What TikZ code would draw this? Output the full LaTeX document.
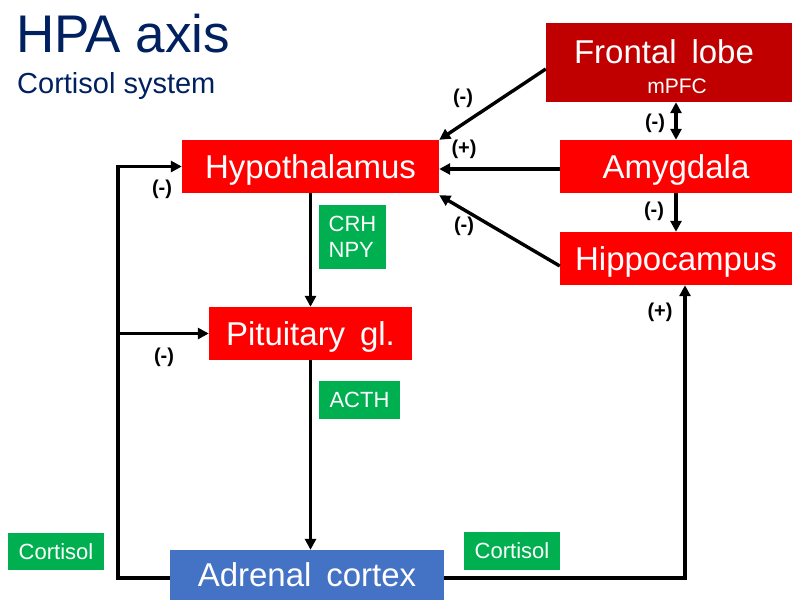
\documentclass[tikz,border=0pt]{standalone}
\usepackage{fontspec}
\setmainfont{Liberation Sans}
\usetikzlibrary{arrows.meta}
\definecolor{titleblue}{HTML}{002060}
\definecolor{lobered}{HTML}{C00000}
\definecolor{boxred}{HTML}{FF0000}
\definecolor{boxblue}{HTML}{4472C4}
\definecolor{boxgreen}{HTML}{00B050}
\newcommand{\gap}{\hspace{0.45em}}
\begin{document}
\begin{tikzpicture}
        [x=1pt, y=-1pt, >={Triangle[length=11pt,width=11pt]},
        organ/.style={rectangle, fill=boxred, text=white, inner sep=0pt, font=\fontsize{33}{40}\selectfont, text height=23.6pt, text depth=0pt},
        hormone/.style={rectangle, fill=boxgreen, text=white, inner sep=0pt, font=\fontsize{22}{26}\selectfont},
        sign/.style={inner sep=0pt, font=\bfseries\fontsize{20}{24}\selectfont},
        link/.style={line width=3.4pt, ->}]
        \useasboundingbox (0,0) rectangle (792,600);

        \node[anchor=base west, inner sep=0pt, text=titleblue, font=\fontsize{53}{60}\selectfont] (title) at (16,52) {HPA axis};
        \node[anchor=base west, inner sep=0pt, text=titleblue, font=\fontsize{29}{34}\selectfont] (subtitle) at (17,93) {Cortisol system};

        \node[organ, minimum width=257pt, minimum height=53pt] (hypo) at (310.5,166.5) {Hypothalamus};
        \node[organ, minimum width=203pt, minimum height=53pt] (pit) at (310.5,333.5) {Pituitary\gap gl.};
        \node[organ, fill=boxblue, minimum width=274pt, minimum height=50pt] (adrenal) at (307,575) {Adrenal\gap cortex};
        \node[organ, fill=lobered, minimum width=246pt, minimum height=79pt] (frontal) at (669,62.5) {};
        \node[anchor=base, inner sep=0pt, text=white, font=\fontsize{33}{40}\selectfont] (frontaltxt) at (664,63) {Frontal\gap lobe};
        \node[anchor=base, inner sep=0pt, text=white, font=\fontsize{21}{25}\selectfont] (mpfc) at (677,93) {mPFC};
        \node[organ, minimum width=232pt, minimum height=53pt] (amyg) at (676,166.5) {Amygdala};
        \node[organ, minimum width=232pt, minimum height=53pt] (hippo) at (676,258.5) {Hippocampus};

        \node[hormone, minimum width=67pt, minimum height=64pt, align=left] (crh) at (352.5,237) {CRH\\NPY};
        \node[hormone, minimum width=81pt, minimum height=38pt] (acth) at (359.5,400) {ACTH};
        \node[hormone, minimum width=96pt, minimum height=37pt] (cortl) at (56,551.5) {Cortisol};
        \node[hormone, minimum width=96pt, minimum height=38pt] (cortr) at (512,551) {Cortisol};

        \coordinate (lcorner) at (118,166.5);

        % inputs to the hypothalamus
        \draw[link] ([yshift=-6.5pt]frontal.west) -- (hypo.north east);
        \draw[link] ([yshift=-2.5pt]amyg.west) -- ([yshift=-2.5pt]hypo.east);
        \draw[link] ([yshift=-7.5pt]hippo.west) -- ([yshift=-2pt]hypo.south east);
        \draw[link, <->] (amyg.north |- frontal.south) -- (amyg.north);
        \draw[link] (amyg.south) -- (hippo.north);

        % down the axis
        \draw[link] (hypo.south) -- (pit.north);
        \draw[link] (pit.south) -- (pit.south |- adrenal.north);

        % cortisol feedback
        \draw[link] ([yshift=-3pt]adrenal.west) -| (lcorner) -- (hypo.west);
        \draw[link] (lcorner |- pit.west) -- (pit.west);
        \draw[link] ([yshift=-3pt]adrenal.east) -| ([xshift=9pt]hippo.south);

        \node[sign] (sfront) at (463,98) {(-)};
        \node[sign] (samyg) at (464,149) {(+)};
        \node[sign] (shippo) at (464,226) {(-)};
        \node[sign] (sdouble) at (655,123) {(-)};
        \node[sign] (samhip) at (654,211) {(-)};
        \node[sign] (shypo) at (162,189) {(-)};
        \node[sign] (spit) at (164,357) {(-)};
        \node[sign] (sadr) at (660,312) {(+)};

    \end{tikzpicture}
\end{document}
